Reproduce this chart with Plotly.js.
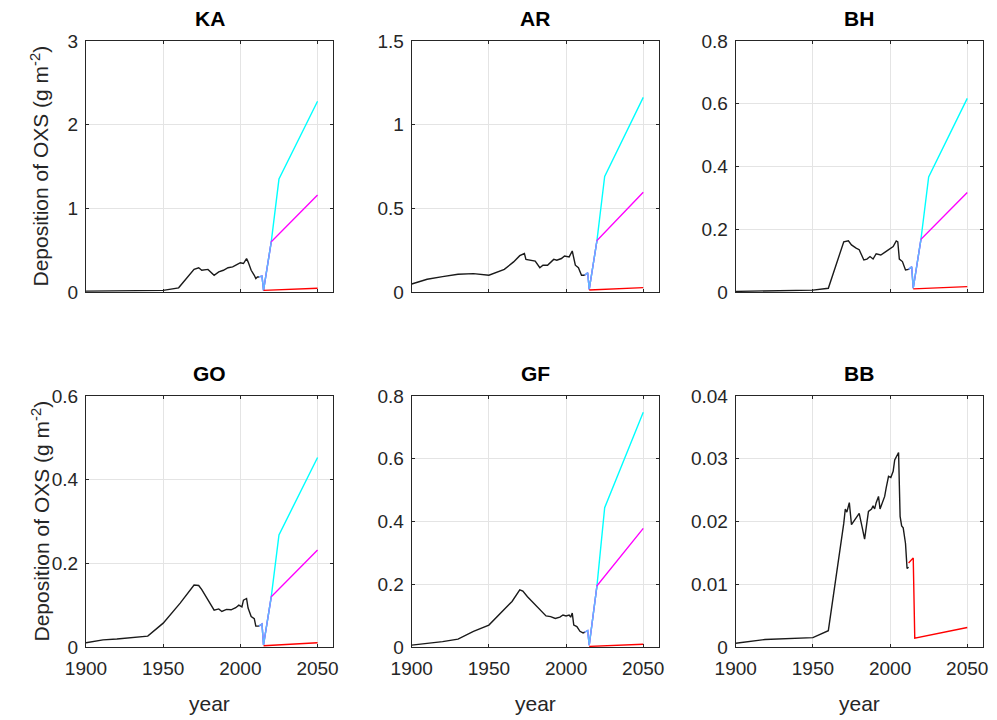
<!DOCTYPE html>
<html>
<head>
<meta charset="utf-8">
<script src="https://cdn.plot.ly/plotly-3.0.1.min.js"></script>
<style>html,body{margin:0;padding:0;background:#fff;}#chart{width:997px;height:720px;}</style>
</head>
<body>
<div id="chart"></div>
<script>
// ---------- DATA ----------
const panelNames = ["KA", "AR", "BH", "GO", "GF", "BB"];

const kaYears = [1900,1950,1960,1965,1970,1973,1975,1979,1983,1986,1989,1992,1995,1998,2000,2002,2004,2005,2007,2009,2010,2011,2012];
const kaHist  = [0.01,0.02,0.05,0.16,0.27,0.29,0.26,0.27,0.20,0.24,0.26,0.29,0.30,0.33,0.35,0.34,0.40,0.36,0.26,0.20,0.16,0.18,0.18];
const arYears = [1900,1910,1920,1930,1940,1950,1960,1966,1970,1973,1974,1977,1980,1983,1985,1988,1990,1992,1994,1997,1999,2002,2004,2006,2008,2010,2012];
const arHist  = [0.048,0.076,0.092,0.106,0.11,0.10,0.135,0.18,0.217,0.23,0.195,0.19,0.185,0.145,0.16,0.16,0.18,0.195,0.19,0.20,0.215,0.21,0.245,0.16,0.145,0.10,0.10];
const bhYears = [1900,1950,1960,1970,1973,1975,1978,1980,1983,1985,1987,1989,1991,1994,1997,2000,2002,2004,2005,2006,2008,2010,2012];
const bhHist  = [0.002,0.006,0.012,0.16,0.163,0.15,0.14,0.135,0.102,0.105,0.113,0.105,0.122,0.118,0.128,0.139,0.145,0.163,0.16,0.105,0.097,0.07,0.072];
const goYears = [1900,1911,1920,1940,1950,1961,1970,1973,1975,1978,1980,1983,1986,1988,1991,1994,1997,1999,2001,2002,2004,2005,2007,2009,2010,2012];
const goHist  = [0.010,0.017,0.019,0.026,0.057,0.105,0.148,0.147,0.137,0.119,0.105,0.088,0.091,0.085,0.09,0.089,0.094,0.100,0.096,0.112,0.116,0.093,0.073,0.068,0.05,0.05];
const gfYears = [1900,1920,1930,1940,1950,1960,1965,1970,1972,1975,1980,1983,1987,1990,1993,1996,1998,2000,2002,2003,2004,2005,2007,2009,2011,2012];
const gfHist  = [0.006,0.017,0.025,0.05,0.07,0.12,0.145,0.182,0.178,0.16,0.134,0.118,0.099,0.097,0.091,0.095,0.102,0.099,0.102,0.095,0.108,0.07,0.065,0.05,0.045,0.047];
const bbYears = [1900,1919,1950,1960,1970,1971,1972,1973.6,1975,1977.5,1980,1982,1983.5,1986,1988,1989,1990,1991,1992.5,1993.5,1995.5,1996.5,1997.5,1999,2000.5,2002,2003,2005,2005.5,2006.5,2007.5,2008.5,2010,2011,2012];
const bbHist  = [0.0006,0.0012,0.0015,0.0026,0.0197,0.022,0.0215,0.023,0.0195,0.0205,0.0213,0.019,0.0172,0.0216,0.022,0.0225,0.022,0.023,0.024,0.022,0.0234,0.024,0.0254,0.0272,0.027,0.028,0.0298,0.031,0.031,0.0208,0.0193,0.019,0.0165,0.0125,0.0127];

// scenario years
const cyanYears    = [2012, 2014, 2015, 2020, 2025, 2050];
const magentaYears = [2012, 2014, 2015, 2020, 2050];
const redYears     = [2015, 2050];
const bbRedYears   = [2012, 2015, 2016, 2050];

// scenario values
const kaCyan = [0.18, 0.19, 0.02, 0.60, 1.35, 2.28];
const kaMag  = [0.18, 0.19, 0.02, 0.60, 1.16];
const kaRed  = [0.02, 0.045];
const arCyan = [0.10, 0.115, 0.016, 0.307, 0.69, 1.163];
const arMag  = [0.10, 0.115, 0.016, 0.307, 0.596];
const arRed  = [0.012, 0.026];
const bhCyan = [0.072, 0.08, 0.012, 0.168, 0.367, 0.617];
const bhMag  = [0.072, 0.08, 0.012, 0.168, 0.317];
const bhRed  = [0.01, 0.017];
const goCyan = [0.05, 0.055, 0.005, 0.12, 0.268, 0.453];
const goMag  = [0.05, 0.055, 0.005, 0.12, 0.232];
const goRed  = [0.003, 0.010];
const gfCyan = [0.047, 0.052, 0.006, 0.195, 0.444, 0.748];
const gfMag  = [0.047, 0.052, 0.006, 0.195, 0.378];
const gfRed  = [0.002, 0.009];
const bbRed  = [0.0134, 0.0142, 0.0014, 0.0031];

const yTicks = [[0,1,2,3],[0,0.5,1,1.5],[0,0.2,0.4,0.6,0.8],[0,0.2,0.4,0.6],[0,0.2,0.4,0.6,0.8],[0,0.01,0.02,0.03,0.04]];
const xTicks = [1900, 1950, 2000, 2050];

// ---------- BUILD ----------
const panels = [
  {hy: kaYears, hv: kaHist, c: kaCyan, m: kaMag, r: kaRed, ry: redYears},
  {hy: arYears, hv: arHist, c: arCyan, m: arMag, r: arRed, ry: redYears},
  {hy: bhYears, hv: bhHist, c: bhCyan, m: bhMag, r: bhRed, ry: redYears},
  {hy: goYears, hv: goHist, c: goCyan, m: goMag, r: goRed, ry: redYears},
  {hy: gfYears, hv: gfHist, c: gfCyan, m: gfMag, r: gfRed, ry: redYears},
  {hy: bbYears, hv: bbHist, c: null, m: null, r: bbRed, ry: bbRedYears}
];

const W = 997, H = 720;
const colX = [[86, 333], [411.7, 658.7], [735.7, 982.7]];
const rowY = [[41, 292], [396, 647]];
const FONT = 'Liberation Sans, Arial, sans-serif';

const traces = [];
const layout = {
  width: W, height: H, showlegend: false,
  margin: {l: 0, r: 0, t: 0, b: 0},
  paper_bgcolor: '#ffffff', plot_bgcolor: '#ffffff',
  font: {family: FONT, color: '#262626'},
  annotations: []
};

panels.forEach((p, i) => {
  const n = i + 1;
  const xa = 'x' + (n === 1 ? '' : n), ya = 'y' + (n === 1 ? '' : n);
  const col = i % 3, row = Math.floor(i / 3);
  const lw = 1.4;
  if (p.c) {
    traces.push({x: cyanYears, y: p.c, xaxis: xa, yaxis: ya, mode: 'lines', line: {color: '#00ffff', width: lw}, hoverinfo: 'skip'});
    traces.push({x: magentaYears, y: p.m, xaxis: xa, yaxis: ya, mode: 'lines', line: {color: '#ff00ff', width: lw}, hoverinfo: 'skip'});
    // overlapping segment (cyan + magenta drawn on top of each other)
    traces.push({x: magentaYears.slice(0, 4), y: p.m.slice(0, 4), xaxis: xa, yaxis: ya, mode: 'lines', line: {color: '#5fb8ff', width: lw}, hoverinfo: 'skip'});
  }
  traces.push({x: p.ry, y: p.r, xaxis: xa, yaxis: ya, mode: 'lines', line: {color: '#ff0000', width: lw}, hoverinfo: 'skip'});
  traces.push({x: p.hy, y: p.hv, xaxis: xa, yaxis: ya, mode: 'lines', line: {color: '#1a1a1a', width: lw}, hoverinfo: 'skip'});

  const yt = yTicks[i];
  const common = {
    showline: true, linecolor: '#262626', linewidth: 1, mirror: 'ticks',
    ticks: 'inside', ticklen: 3, tickcolor: '#262626', tickwidth: 1,
    showgrid: true, gridcolor: '#e4e4e4', gridwidth: 1, zeroline: false,
    tickfont: {size: 19, color: '#262626', family: FONT}
  };
  layout['xaxis' + (n === 1 ? '' : n)] = Object.assign({}, common, {
    domain: [colX[col][0] / W, colX[col][1] / W], anchor: ya,
    range: [1900, 2060], tickvals: xTicks, ticktext: xTicks.map(String),
    showticklabels: row === 1, ticklabelstandoff: 4
  });
  layout['yaxis' + (n === 1 ? '' : n)] = Object.assign({}, common, {
    domain: [1 - rowY[row][1] / H, 1 - rowY[row][0] / H], anchor: xa,
    range: [yt[0], yt[yt.length - 1]], tickvals: yt, ticktext: yt.map(String),
    ticklabelstandoff: 3
  });
  // panel title
  layout.annotations.push({
    text: '<b>' + panelNames[i] + '</b>', xref: 'paper', yref: 'paper',
    x: (colX[col][0] + colX[col][1]) / 2 / W, y: 1 - (rowY[row][0] - 23) / H,
    xanchor: 'center', yanchor: 'middle', showarrow: false,
    font: {size: 21, color: '#000000', family: FONT}
  });
  if (row === 1) {
    layout.annotations.push({
      text: 'year', xref: 'paper', yref: 'paper',
      x: (colX[col][0] + colX[col][1]) / 2 / W, y: 1 - 703 / H,
      xanchor: 'center', yanchor: 'middle', showarrow: false,
      font: {size: 21, color: '#262626', family: FONT}
    });
  }
  if (col === 0) {
    layout.annotations.push({
      text: 'Deposition of OXS (g m<sup>-2</sup>)', xref: 'paper', yref: 'paper',
      x: 40 / W, y: 1 - (rowY[row][0] + rowY[row][1]) / 2 / H, textangle: -90,
      xanchor: 'center', yanchor: 'middle', showarrow: false,
      font: {size: 21, color: '#262626', family: FONT}
    });
  }
});

Plotly.newPlot('chart', traces, layout, {staticPlot: true, displayModeBar: false});
</script>
</body>
</html>
